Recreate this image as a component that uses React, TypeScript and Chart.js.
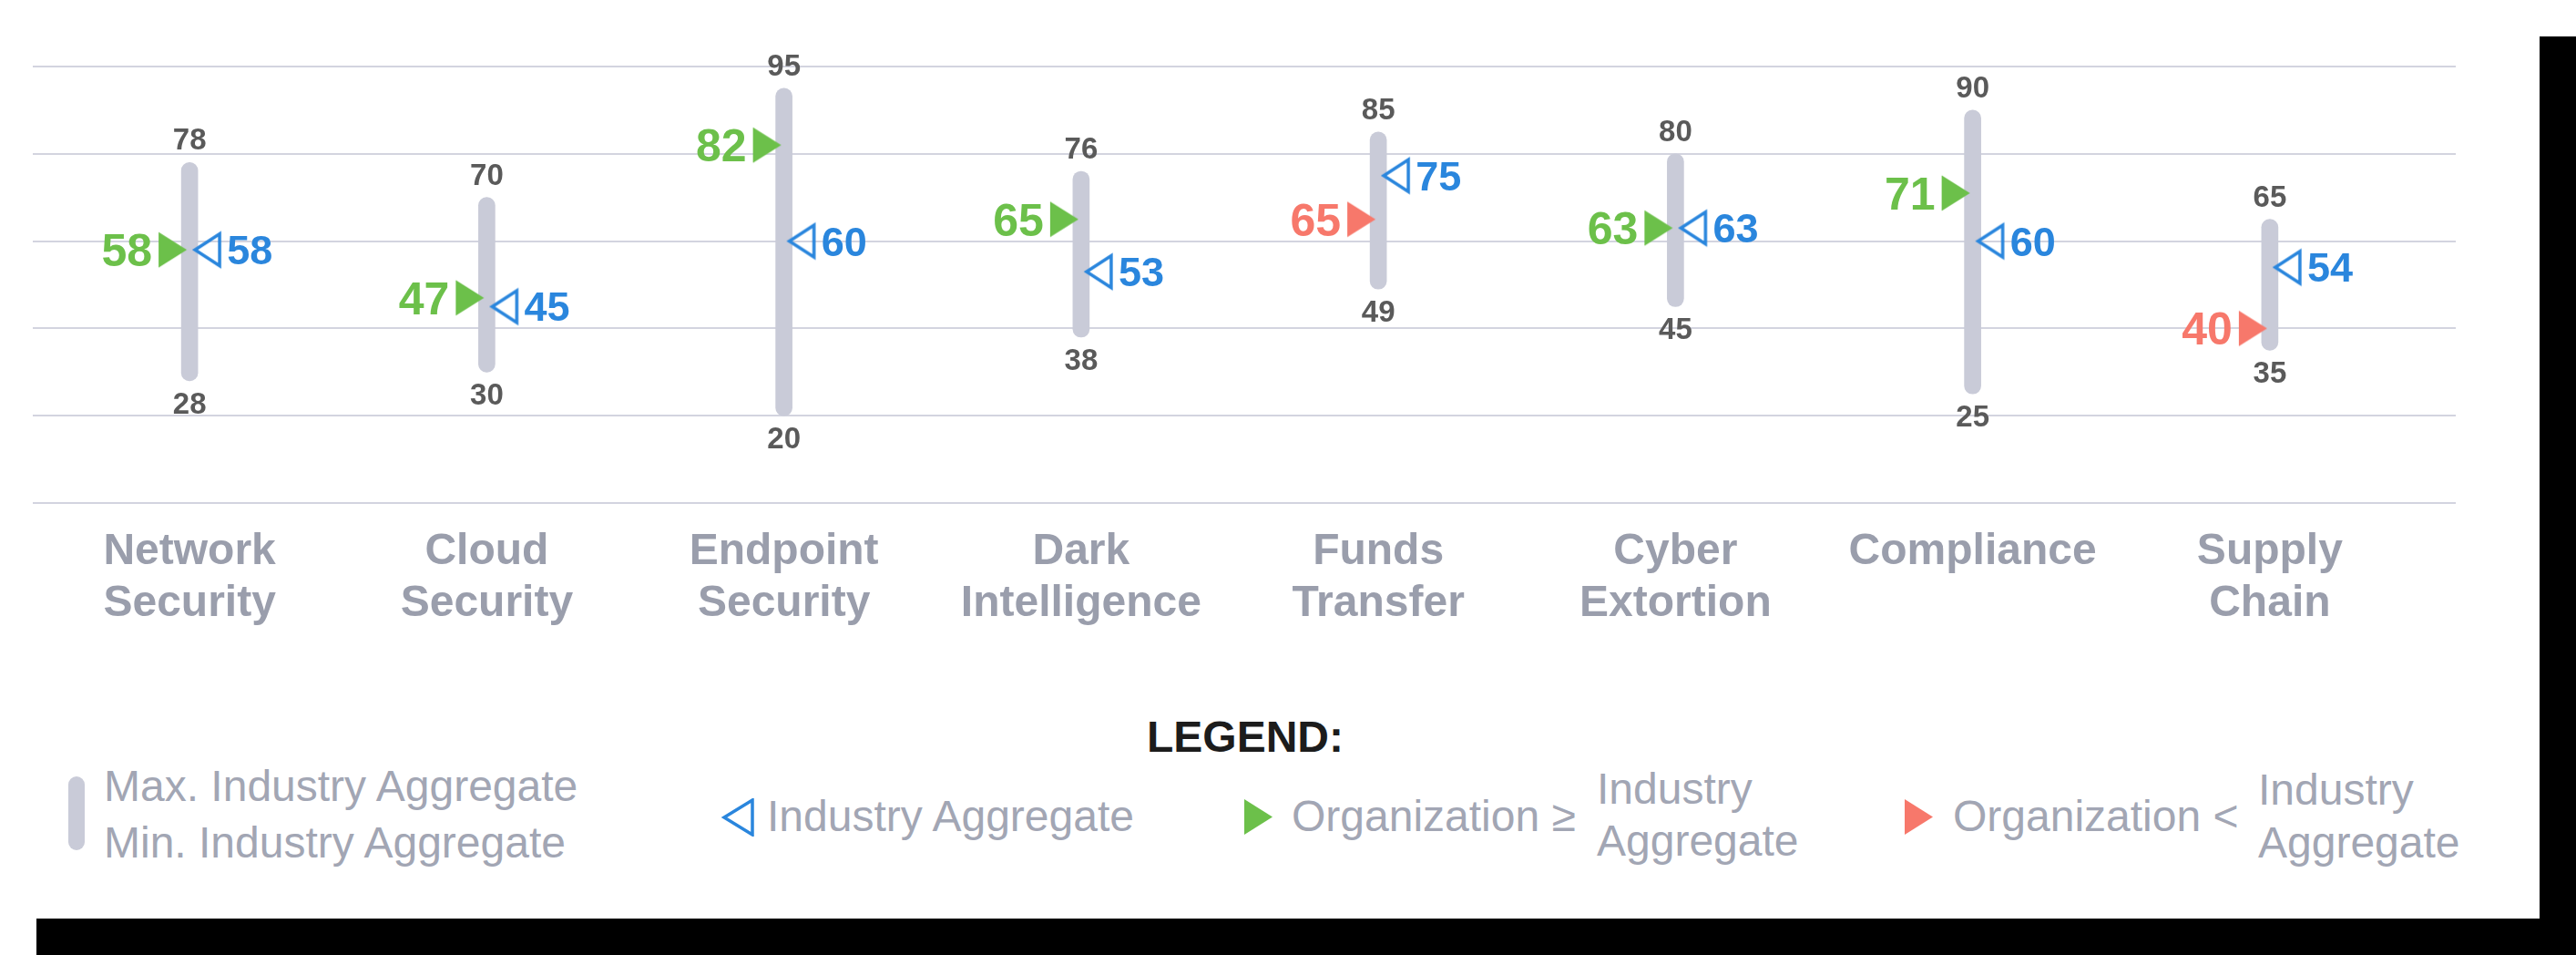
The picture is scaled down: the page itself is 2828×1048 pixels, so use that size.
import React, { useEffect, useRef } from "react";
import { Chart, registerables } from "chart.js";

Chart.register(...registerables);

const FONT = "'Liberation Sans', Arial, Helvetica, sans-serif";

// ---- data ----
const categories: string[][] = [
  ["Network", "Security"],
  ["Cloud", "Security"],
  ["Endpoint", "Security"],
  ["Dark", "Intelligence"],
  ["Funds", "Transfer"],
  ["Cyber", "Extortion"],
  ["Compliance"],
  ["Supply", "Chain"],
];
const maxValues = [78, 70, 95, 76, 85, 80, 90, 65];
const minValues = [28, 30, 20, 38, 49, 45, 25, 35];
const industryValues = [58, 45, 60, 53, 75, 63, 60, 54];
const orgValues = [58, 47, 82, 65, 65, 63, 71, 40];
const yTicks = [0, 20, 40, 60, 80, 100];

// ---- styles ----
const BAR_COLOR = "#c9cbd8";
const GRID_COLOR = "#d3d4df";
const BLUE = "#2a86dd";
const GREEN = "#6cc04a";
const RED = "#f7786b";
const MINMAX_COLOR = "#5a5a5a";
const CAT_COLOR = "#9a9eac";
const LEGEND_TEXT = "#a2a6b4";

function makeTriangle(kind: "org" | "ind", color: string): HTMLCanvasElement {
  const c = document.createElement("canvas");
  c.width = 84;
  c.height = 44;
  const g = c.getContext("2d")!;
  const cx = 42;
  const cy = 22;
  g.beginPath();
  if (kind === "org") {
    g.moveTo(cx - 3, cy);
    g.lineTo(cx - 34, cy - 19.5);
    g.lineTo(cx - 34, cy + 19.5);
    g.closePath();
    g.fillStyle = color;
    g.fill();
  } else {
    g.moveTo(cx + 6, cy);
    g.lineTo(cx + 33, cy - 17.5);
    g.lineTo(cx + 33, cy + 17.5);
    g.closePath();
    g.strokeStyle = color;
    g.lineWidth = 3.5;
    g.lineJoin = "miter";
    g.stroke();
  }
  return c;
}

const gridPlugin = {
  id: "extendedGrid",
  beforeDatasetsDraw(chart: any) {
    const ctx = chart.ctx;
    const y = chart.scales.y;
    ctx.save();
    ctx.strokeStyle = GRID_COLOR;
    ctx.lineWidth = 2;
    yTicks.forEach((v) => {
      const py = Math.round(y.getPixelForValue(v));
      ctx.beginPath();
      ctx.moveTo(36, py);
      ctx.lineTo(2696, py);
      ctx.stroke();
    });
    ctx.restore();
  },
};

const labelPlugin = {
  id: "valueLabels",
  afterDatasetsDraw(chart: any) {
    const ctx = chart.ctx;
    const barMeta = chart.getDatasetMeta(0);
    const indMeta = chart.getDatasetMeta(1);
    const orgMeta = chart.getDatasetMeta(2);
    ctx.save();
    ctx.textBaseline = "alphabetic";
    barMeta.data.forEach((bar: any, i: number) => {
      const { x, y, base } = bar.getProps(["x", "y", "base"], true);
      const top = Math.min(y, base);
      const bottom = Math.max(y, base);
      ctx.font = `bold 33px ${FONT}`;
      ctx.fillStyle = MINMAX_COLOR;
      ctx.textAlign = "center";
      ctx.fillText(String(maxValues[i]), x, top - 14);
      ctx.fillText(String(minValues[i]), x, bottom + 36);
    });
    indMeta.data.forEach((pt: any, i: number) => {
      ctx.font = `bold 45px ${FONT}`;
      ctx.fillStyle = BLUE;
      ctx.textAlign = "left";
      ctx.fillText(String(industryValues[i]), pt.x + 41, pt.y + 16);
    });
    orgMeta.data.forEach((pt: any, i: number) => {
      ctx.font = `bold 50px ${FONT}`;
      ctx.fillStyle = orgValues[i] >= industryValues[i] ? GREEN : RED;
      ctx.textAlign = "right";
      ctx.fillText(String(orgValues[i]), pt.x - 41, pt.y + 18);
    });
    ctx.restore();
  },
};

function LegendText(props: { left: number; baseline: number; bold?: boolean; color: string; children: React.ReactNode }) {
  return (
    <div
      style={{
        position: "absolute",
        left: props.left,
        top: props.baseline - 41,
        fontFamily: FONT,
        fontSize: 48,
        lineHeight: "48px",
        fontWeight: props.bold ? 700 : 400,
        color: props.color,
        whiteSpace: "nowrap",
      }}
    >
      {props.children}
    </div>
  );
}

export default function App() {
  const ref = useRef<HTMLCanvasElement>(null);

  useEffect(() => {
    if (!ref.current) return;
    const greenTri = makeTriangle("org", GREEN);
    const redTri = makeTriangle("org", RED);
    const blueTri = makeTriangle("ind", BLUE);

    const chart = new Chart(ref.current, {
      type: "bar",
      data: {
        labels: categories as any,
        datasets: [
          {
            type: "bar",
            label: "Industry range",
            data: categories.map((_, i) => [minValues[i], maxValues[i]]) as any,
            backgroundColor: BAR_COLOR,
            barThickness: 18,
            borderRadius: 9,
            borderSkipped: false,
            order: 2,
          } as any,
          {
            type: "line",
            label: "Industry Aggregate",
            data: industryValues,
            showLine: false,
            pointStyle: blueTri,
            pointRadius: 12,
            order: 1,
          } as any,
          {
            type: "line",
            label: "Organization",
            data: orgValues,
            showLine: false,
            pointStyle: orgValues.map((v, i) => (v >= industryValues[i] ? greenTri : redTri)),
            pointRadius: 12,
            order: 0,
          } as any,
        ],
      },
      options: {
        animation: false,
        responsive: false,
        devicePixelRatio: 1,
        layout: { padding: { left: 45, right: 133, top: 73, bottom: 0 } },
        plugins: { legend: { display: false }, tooltip: { enabled: false } },
        scales: {
          x: {
            type: "category",
            offset: true,
            grid: { display: false },
            border: { display: false },
            ticks: {
              color: CAT_COLOR,
              font: { family: FONT, size: 48, weight: "bold", lineHeight: 1.19 },
              padding: 17,
              maxRotation: 0,
              autoSkip: false,
            },
            afterFit: (scale: any) => {
              scale.height = 168;
            },
          },
          y: {
            display: false,
            min: 0,
            max: 100,
          },
        },
      } as any,
      plugins: [gridPlugin, labelPlugin],
    });
    return () => chart.destroy();
  }, []);

  return (
    <div style={{ position: "absolute", left: 0, top: 0, width: 2828, height: 1048, background: "#fff", overflow: "hidden" }}>
      <div style={{ position: "absolute", left: 40, top: 40, width: 2788, height: 1008, background: "#000" }} />
      <div style={{ position: "absolute", left: 0, top: 0, width: 2788, height: 1008, background: "#fff" }}>
        <canvas
          ref={ref}
          width={2788}
          height={720}
          style={{ position: "absolute", left: 0, top: 0, width: 2788, height: 720 }}
        />
        <div
          style={{
            position: "absolute",
            left: 1367 - 300,
            width: 600,
            top: 826 - 41,
            textAlign: "center",
            fontFamily: FONT,
            fontSize: 48,
            lineHeight: "48px",
            fontWeight: 700,
            color: "#1c1c1c",
          }}
        >
          LEGEND:
        </div>
        <div style={{ position: "absolute", left: 75, top: 852, width: 18, height: 81, borderRadius: 9, background: BAR_COLOR }} />
        <LegendText left={114} baseline={880} color={LEGEND_TEXT}>Max. Industry Aggregate</LegendText>
        <LegendText left={114} baseline={942} color={LEGEND_TEXT}>Min. Industry Aggregate</LegendText>

        <svg style={{ position: "absolute", left: 791, top: 876 }} width={38} height={42}>
          <polygon points="35,2 35,40 4,21" fill="none" stroke={BLUE} strokeWidth={3.5} />
        </svg>
        <LegendText left={842} baseline={913} color={LEGEND_TEXT}>Industry Aggregate</LegendText>

        <svg style={{ position: "absolute", left: 1366, top: 877 }} width={31} height={39}>
          <polygon points="0,0 0,39 31,19.5" fill={GREEN} />
        </svg>
        <LegendText left={1418} baseline={913} color={LEGEND_TEXT}>Organization ≥</LegendText>
        <LegendText left={1753} baseline={883} color={LEGEND_TEXT}>Industry</LegendText>
        <LegendText left={1753} baseline={940} color={LEGEND_TEXT}>Aggregate</LegendText>

        <svg style={{ position: "absolute", left: 2091, top: 877 }} width={31} height={39}>
          <polygon points="0,0 0,39 31,19.5" fill={RED} />
        </svg>
        <LegendText left={2144} baseline={913} color={LEGEND_TEXT}>Organization &lt;</LegendText>
        <LegendText left={2479} baseline={884} color={LEGEND_TEXT}>Industry</LegendText>
        <LegendText left={2479} baseline={942} color={LEGEND_TEXT}>Aggregate</LegendText>
      </div>
    </div>
  );
}
